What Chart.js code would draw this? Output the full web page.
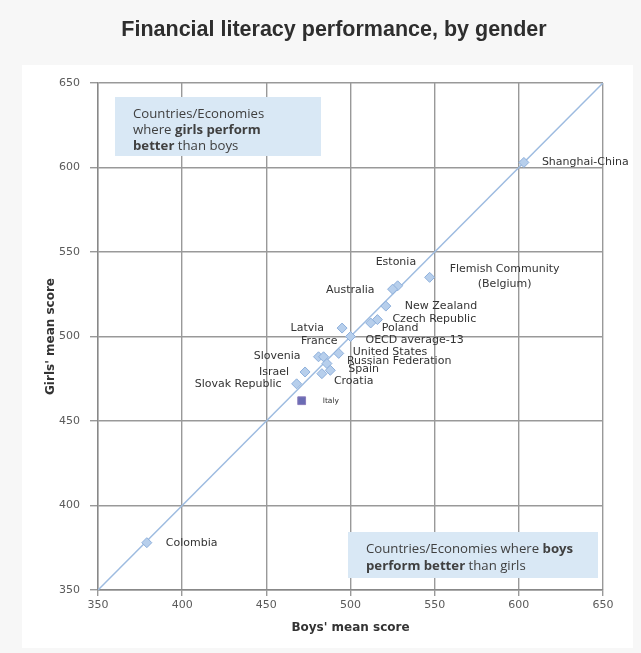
<!DOCTYPE html>
<html>
<head>
<meta charset="utf-8">
<script src="https://cdn.jsdelivr.net/npm/chart.js@4.4.1/dist/chart.umd.min.js"></script>
<style>
  html, body { margin: 0; padding: 0; background: #f7f7f7; }
  #wrap { width: 641px; height: 653px; position: relative; }
</style>
</head>
<body>
<div id="wrap"><canvas id="chart" width="641" height="653"></canvas></div>
<script>
// Country data: boys' mean score (x), girls' mean score (y)
const countries = ['Shanghai-China', 'Estonia', 'Australia', 'Flemish Community', 'New Zealand',
  'Czech Republic', 'Poland', 'Latvia', 'OECD average-13', 'United States', 'Slovenia', 'France',
  'Russian Federation', 'Spain', 'Croatia', 'Israel', 'Slovak Republic', 'Colombia'];
const boysScores = [603, 528, 525, 547, 521, 516, 512, 495, 500, 493, 481, 484, 486, 488, 483, 473, 468, 379];
const girlsScores = [603, 530, 528, 535, 518, 510, 508, 505, 500, 490, 488, 488, 484, 480, 478, 479, 472, 378];

const highlighted = ['Italy'];
const highlightedBoys = [471];
const highlightedGirls = [462];

const axisTicks = [350, 400, 450, 500, 550, 600, 650];

// label placement relative to each point: [dx, dy, align]
const labelPlacement = {
  'Shanghai-China': [18, 0, 'left'],
  'Estonia': [-22, -24, 'left'],
  'Australia': [-18, 1, 'right'],
  'Flemish Community': [75, -8, 'center'],
  'New Zealand': [19, 0, 'left'],
  'Czech Republic': [15, 0, 'left'],
  'Poland': [11, 5, 'left'],
  'Latvia': [-18, 0, 'right'],
  'OECD average-13': [15, 3.5, 'left'],
  'United States': [14, -1, 'left'],
  'Slovenia': [-18, -1, 'right'],
  'France': [14, -16, 'right'],
  'Russian Federation': [20, -2.5, 'left'],
  'Spain': [18, -1, 'left'],
  'Croatia': [12, 7, 'left'],
  'Israel': [-16, 0, 'right'],
  'Slovak Republic': [-15, 0, 'right'],
  'Colombia': [19, 0, 'left'],
  'Italy': [21, 0, 'left']
};

const ctx = document.getElementById('chart').getContext('2d');

const panelBackground = {
  id: 'panelBackground',
  beforeDraw(chart) {
    const c = chart.ctx;
    c.save();
    c.fillStyle = '#f7f7f7';
    c.fillRect(0, 0, chart.width, chart.height);
    c.fillStyle = '#ffffff';
    c.fillRect(22, 65, 611, 583);
    c.fillStyle = '#2e2e2e';
    c.font = 'bold 21.5px "Liberation Sans", Arial, sans-serif';
    c.textAlign = 'center';
    c.textBaseline = 'middle';
    c.fillText('Financial literacy performance, by gender', 334, 30);
    c.restore();
  }
};

function drawNote(c, x, y, w, h, firstY, step, lines) {
  c.fillStyle = '#d9e8f5';
  c.fillRect(x, y, w, h);
  c.fillStyle = '#404040';
  c.textBaseline = 'middle';
  c.textAlign = 'left';
  lines.forEach((parts, i) => {
    let px = x + 18;
    const py = firstY + i * step;
    parts.forEach(([txt, bold]) => {
      c.font = (bold ? 'bold ' : '') + '13.2px "Open Sans", sans-serif';
      c.fillText(txt, px, py);
      px += c.measureText(txt).width;
    });
  });
}

const notesAndLabels = {
  id: 'notesAndLabels',
  afterDatasetsDraw(chart) {
    const c = chart.ctx;
    const xs = chart.scales.x, ys = chart.scales.y;
    const labelFont = '11px "DejaVu Sans", sans-serif';
    c.save();
    c.font = labelFont;
    c.fillStyle = '#333333';
    c.textBaseline = 'middle';
    const all = countries.map((n, i) => [n, boysScores[i], girlsScores[i]])
      .concat(highlighted.map((n, i) => [n, highlightedBoys[i], highlightedGirls[i]]));
    all.forEach(([name, bx, gy]) => {
      const p = labelPlacement[name];
      const px = xs.getPixelForValue(bx) + p[0];
      const py = ys.getPixelForValue(gy) + p[1];
      c.textAlign = p[2];
      if (name === 'Flemish Community') {
        c.fillText(name, px, py);
        c.fillText('(Belgium)', px, py + 15);
      } else if (name === 'Italy') {
        c.font = '7.5px "DejaVu Sans", sans-serif';
        c.fillText(name, px, py);
        c.font = labelFont;
      } else {
        c.fillText(name, px, py);
      }
    });
    drawNote(c, 115, 97, 206, 59, 114, 16, [
      [['Countries/Economies', false]],
      [['where ', false], ['girls perform', true]],
      [['better', true], [' than boys', false]]
    ]);
    drawNote(c, 348, 532, 250, 46, 549, 17, [
      [['Countries/Economies where ', false], ['boys', true]],
      [['perform better', true], [' than girls', false]]
    ]);
    c.restore();
  }
};

new Chart(ctx, {
  type: 'scatter',
  data: {
    datasets: [
      {
        type: 'line',
        label: 'Equal performance',
        data: [{ x: axisTicks[0], y: axisTicks[0] }, { x: axisTicks[axisTicks.length - 1], y: axisTicks[axisTicks.length - 1] }],
        borderColor: '#9dbbe0',
        borderWidth: 1.5,
        pointRadius: 0,
        fill: false,
        order: 3
      },
      {
        label: 'Countries',
        data: countries.map((n, i) => ({ x: boysScores[i], y: girlsScores[i] })),
        pointStyle: 'rectRot',
        pointRadius: 5,
        backgroundColor: '#b7cfec',
        borderColor: '#8eb0dc',
        borderWidth: 1,
        order: 1
      },
      {
        label: 'Italy',
        data: highlighted.map((n, i) => ({ x: highlightedBoys[i], y: highlightedGirls[i] })),
        pointStyle: 'rect',
        pointRadius: 5.5,
        backgroundColor: '#6a6cb4',
        borderColor: '#8a7cbc',
        borderWidth: 1,
        order: 0
      }
    ]
  },
  options: {
    responsive: false,
    animation: false,
    layout: { padding: { top: 83, right: 38, bottom: 0, left: 0 } },
    plugins: {
      legend: { display: false },
      tooltip: { enabled: false }
    },
    scales: {
      x: {
        type: 'linear',
        min: 350,
        max: 650,
        afterBuildTicks: (s) => { s.ticks = axisTicks.map(v => ({ value: v })); },
        afterFit: (s) => { s.height = 63; },
        grid: { color: '#999999', lineWidth: 1.4, tickLength: 6 },
        border: { color: '#888888', width: 1.4 },
        ticks: { color: '#5a5a5a', padding: 3, font: { family: '"DejaVu Sans", sans-serif', size: 11 } },
        title: {
          display: true,
          text: "Boys' mean score",
          color: '#333333',
          padding: { top: 0, bottom: 18 },
          font: { family: '"DejaVu Sans", sans-serif', size: 12, weight: 'bold' }
        }
      },
      y: {
        type: 'linear',
        min: 350,
        max: 650,
        afterBuildTicks: (s) => { s.ticks = axisTicks.map(v => ({ value: v })); },
        afterFit: (s) => { s.width = 98; },
        grid: { color: '#999999', lineWidth: 1.4, tickLength: 8 },
        border: { color: '#888888', width: 1.4 },
        ticks: { color: '#5a5a5a', padding: 10, font: { family: '"DejaVu Sans", sans-serif', size: 11 } },
        title: {
          display: true,
          text: "Girls' mean score",
          color: '#333333',
          padding: { top: 44, bottom: 0 },
          font: { family: '"DejaVu Sans", sans-serif', size: 12, weight: 'bold' }
        }
      }
    }
  },
  plugins: [panelBackground, notesAndLabels]
});
</script>
</body>
</html>
